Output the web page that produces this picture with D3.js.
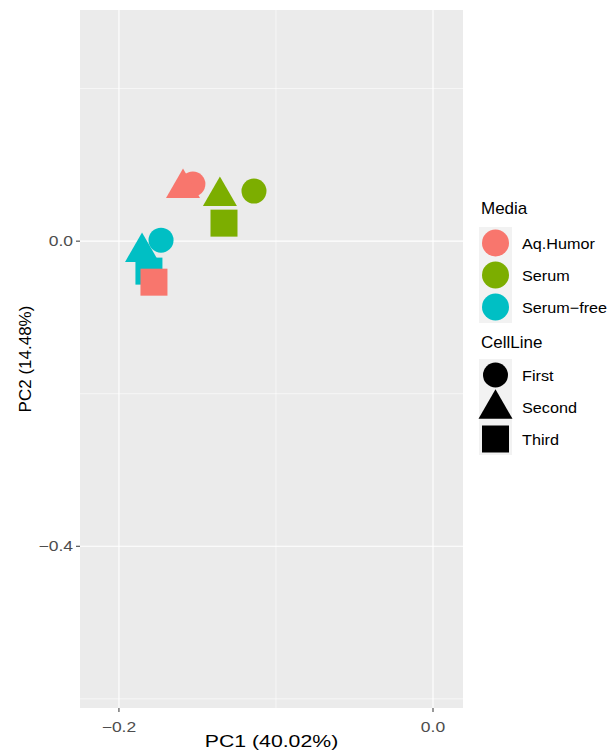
<!DOCTYPE html>
<meta charset="utf-8">
<script src="https://d3js.org/d3.v7.min.js"></script>
<style>
body { margin: 0; background: #fff; }
svg { font-family: "Liberation Sans", Arial, sans-serif; }
.grid-major { stroke: #fff; stroke-width: 1.1px; }
.grid-minor { stroke: #fff; stroke-width: 0.6px; }
.tick-label { fill: #4d4d4d; font-size: 14px; }
.axis-title { fill: #000; font-size: 17px; }
.legend-title { fill: #000; font-size: 17px; }
.legend-label { fill: #000; font-size: 15px; }
</style>
<body></body>
<script>
// media groups and colours
const mediaNames = ["Aq.Humor", "Serum", "Serum-free"];
const mediaColors = ["#F8766D", "#7CAE00", "#00BFC4"];
const cellLines = ["First", "Second", "Third"];

// PCA scores, listed in drawing order
const pointMedia = ["Serum-free", "Serum-free", "Serum-free", "Serum", "Serum", "Serum", "Aq.Humor", "Aq.Humor", "Aq.Humor"];
const pointCell  = ["Second", "Third", "First", "First", "Second", "Third", "First", "Second", "Third"];
const pc1 = [-0.1853, -0.1809, -0.1732, -0.1140, -0.1357, -0.1331, -0.1529, -0.1592, -0.1777];
const pc2 = [-0.0144, -0.0393, 0.0013, 0.0656, 0.0590, 0.0236, 0.0748, 0.0695, -0.0538];

const xMajor = [-0.2, 0.0];
const xMinor = [-0.3, -0.1, 0.1];
const yMajor = [0.0, -0.4];
const yMinor = [0.2, -0.2, -0.6];

const width = 611, height = 752;
const panel = {left: 80, top: 10, right: 463, bottom: 708};
const stretch = 1.25; // the picture is a bit wider than tall

const svg = d3.select("body").append("svg")
  .attr("width", width)
  .attr("height", height);

const x = d3.scaleLinear().domain([-0.2248, 0.0191]).range([panel.left, panel.right]);
const y = d3.scaleLinear().domain([-0.612, 0.303]).range([panel.bottom, panel.top]);
const color = d3.scaleOrdinal().domain(mediaNames).range(mediaColors);

// panel background
svg.append("rect")
  .attr("x", panel.left).attr("y", panel.top)
  .attr("width", panel.right - panel.left)
  .attr("height", panel.bottom - panel.top)
  .attr("fill", "#EBEBEB");

const grid = svg.append("g");

grid.selectAll(".gx-minor").data(xMinor.filter(v => x(v) > panel.left && x(v) < panel.right)).enter()
  .append("line").attr("class", "grid-minor")
  .attr("x1", d => x(d)).attr("x2", d => x(d))
  .attr("y1", panel.top).attr("y2", panel.bottom);
grid.selectAll(".gy-minor").data(yMinor.filter(v => y(v) > panel.top && y(v) < panel.bottom)).enter()
  .append("line").attr("class", "grid-minor")
  .attr("y1", d => y(d)).attr("y2", d => y(d))
  .attr("x1", panel.left).attr("x2", panel.right);
grid.selectAll(".gx-major").data(xMajor).enter()
  .append("line").attr("class", "grid-major")
  .attr("x1", d => x(d)).attr("x2", d => x(d))
  .attr("y1", panel.top).attr("y2", panel.bottom);
grid.selectAll(".gy-major").data(yMajor).enter()
  .append("line").attr("class", "grid-major")
  .attr("y1", d => y(d)).attr("y2", d => y(d))
  .attr("x1", panel.left).attr("x2", panel.right);

const fmt = v => (v < 0 ? "\u2212" : "") + Math.abs(v).toFixed(1);

// axis ticks + labels
svg.selectAll(".xtick").data(xMajor).enter().append("line")
  .attr("x1", d => x(d)).attr("x2", d => x(d))
  .attr("y1", panel.bottom).attr("y2", panel.bottom + 4)
  .attr("stroke", "#333").attr("stroke-width", 1);
svg.selectAll(".xlab").data(xMajor).enter().append("text")
  .attr("class", "tick-label")
  .attr("transform", d => "translate(" + x(d) + "," + (panel.bottom + 24) + ") scale(" + stretch + ",1)")
  .attr("text-anchor", "middle")
  .text(fmt);

svg.selectAll(".ytick").data(yMajor).enter().append("line")
  .attr("y1", d => y(d)).attr("y2", d => y(d))
  .attr("x1", panel.left - 4).attr("x2", panel.left)
  .attr("stroke", "#333").attr("stroke-width", 1);
svg.selectAll(".ylab").data(yMajor).enter().append("text")
  .attr("class", "tick-label")
  .attr("transform", d => "translate(" + (panel.left - 7) + "," + (y(d) + 5) + ") scale(" + stretch + ",1)")
  .attr("text-anchor", "end")
  .text(fmt);

svg.append("text").attr("class", "axis-title")
  .attr("transform", "translate(" + ((panel.left + panel.right) / 2) + ",747) scale(" + stretch + ",1)")
  .attr("text-anchor", "middle")
  .text("PC1 (40.02%)");

svg.append("text").attr("class", "axis-title")
  .attr("transform", "translate(31," + ((panel.top + panel.bottom) / 2) + ") rotate(-90)")
  .attr("text-anchor", "middle")
  .text("PC2 (14.48%)");

// shape drawing
function shapePath(kind, s) {
  if (kind === "First") return d3.symbol().type(d3.symbolCircle).size(Math.PI * s * s / 4)();
  if (kind === "Second") {
    const h = s * 0.87;
    return "M0," + (-h * 2 / 3) + "L" + (s / 2) + "," + (h / 3) + "L" + (-s / 2) + "," + (h / 3) + "Z";
  }
  return "M" + (-s / 2) + "," + (-s / 2) + "h" + s + "v" + s + "h" + (-s) + "Z";
}
const shapeSize = {First: 25, Second: 34, Third: 27};

const pts = pc1.map((v, i) => ({x: v, y: pc2[i], media: pointMedia[i], cell: pointCell[i]}));

svg.selectAll(".pt").data(pts).enter().append("path")
  .attr("transform", d => "translate(" + x(d.x) + "," + y(d.y) + ")")
  .attr("d", d => shapePath(d.cell, shapeSize[d.cell]))
  .attr("fill", d => color(d.media));

// legends
const lx = 479;
svg.append("text").attr("class", "legend-title").attr("x", lx + 2).attr("y", 214).text("Media");
const keyStep = 32;
mediaNames.forEach((m, i) => {
  const cy = 243 + i * keyStep;
  svg.append("rect").attr("x", lx).attr("y", cy - 16).attr("width", 33).attr("height", 32).attr("fill", "#F2F2F2");
  svg.append("path").attr("transform", "translate(" + (lx + 16.5) + "," + cy + ")")
    .attr("d", shapePath("First", 27)).attr("fill", color(m));
  svg.append("text").attr("class", "legend-label")
    .attr("transform", "translate(" + (lx + 43) + "," + (cy + 6) + ") scale(1.08,1)")
    .text(m.replace("-", "\u2212"));
});

svg.append("text").attr("class", "legend-title").attr("x", lx + 2).attr("y", 348).text("CellLine");
cellLines.forEach((c, i) => {
  const cy = 375 + i * keyStep;
  svg.append("rect").attr("x", lx).attr("y", cy - 16).attr("width", 33).attr("height", 32).attr("fill", "#F2F2F2");
  svg.append("path").attr("transform", "translate(" + (lx + 16.5) + "," + (cy + (c === "Second" ? 2 : 0)) + ")")
    .attr("d", shapePath(c, shapeSize[c])).attr("fill", "#000");
  svg.append("text").attr("class", "legend-label")
    .attr("transform", "translate(" + (lx + 43) + "," + (cy + 6) + ") scale(1.08,1)")
    .text(c);
});
</script>
